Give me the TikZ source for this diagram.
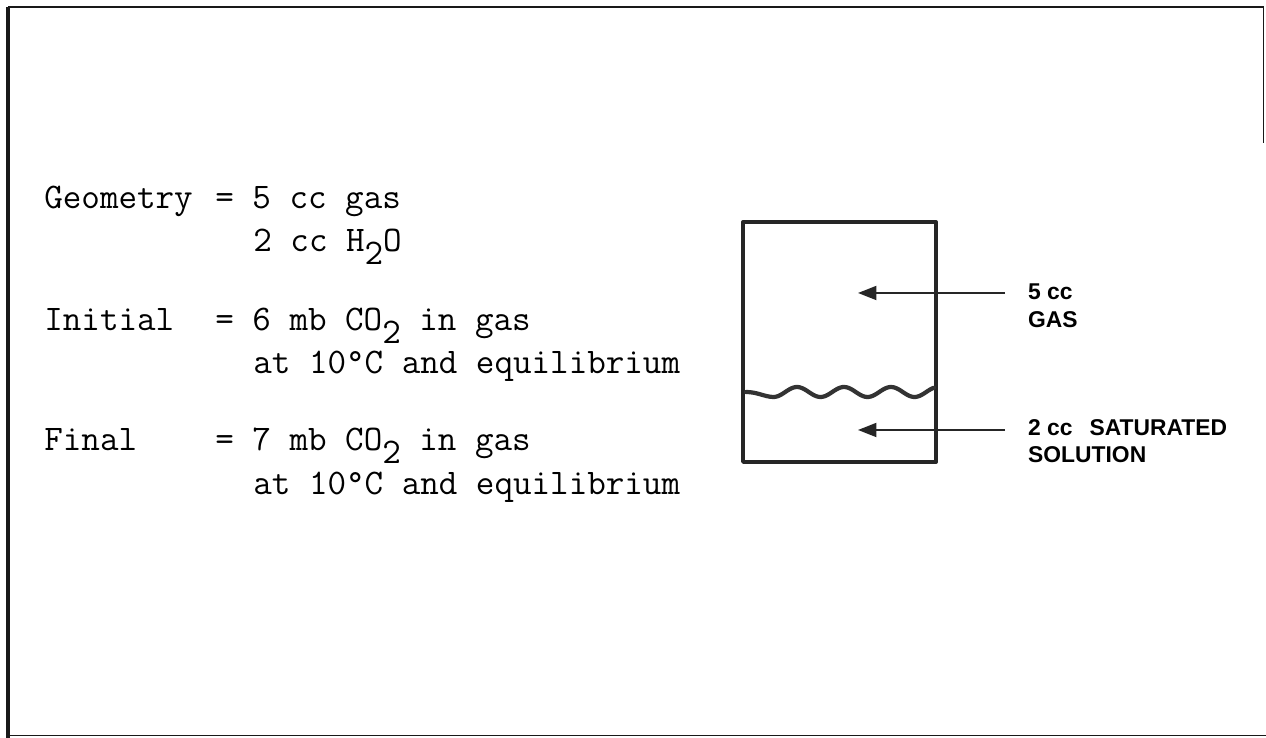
\documentclass[tikz,border=0pt]{standalone}
\usepackage{fontspec}
\newfontfamily\calloutfont{Liberation Sans}
\usepackage{tikz}
\usetikzlibrary{positioning,arrows.meta}
\newcommand{\tsub}[1]{\raisebox{-0.34em}{#1}}

\begin{document}
\begin{tikzpicture}[
  tw/.style={font=\fontsize{20.5}{24}\selectfont\ttfamily, inner sep=0pt, anchor=base west},
  callout/.style={font=\calloutfont\bfseries\fontsize{13}{15}\selectfont, inner xsep=13pt, inner ysep=0pt, anchor=base west},
  pointer/.style={-{Triangle[length=10.5pt,width=8pt]}, line width=1pt, color=black!85},
  vessel/.style={draw=black!85, line width=2.2pt, line join=round},
  surface/.style={draw=black!80, line width=2.4pt, line cap=round},
  frame/.style={draw=black!90}
]
  \useasboundingbox (0,0) rectangle (25.32,14.76);

  % page frame, cut off at the right
  \draw[frame, line width=2.2pt] (0.16,14.62) -- (0.16,0);
  \draw[frame, line width=1.4pt] (0.16,14.62) -- (25.27,14.62);
  \draw[frame, line width=0.6pt] (25.27,14.62) -- (25.27,11.90);
  \draw[frame, line width=0.9pt] (0.16,0.05) -- (25.32,0.05);

  % conditions, typed (labels at column 0, "=" at column 9, text at column 11)
  \node[tw] (geo) at (0.88,10.58) {Geometry};
  \node[tw] (geoval) at (4.30,10.58) {= 5 cc gas};
  \node[tw] (geoval2) at (5.06,9.72) {2 cc H\tsub{2}O};
  \node[tw] (init) at (0.88,8.14) {Initial};
  \node[tw] (initval) at (4.30,8.14) {= 6 mb CO\tsub{2} in gas};
  \node[tw] (initval2) at (5.06,7.28) {at 10°C and equilibrium};
  \node[tw] (fin) at (0.88,5.74) {Final};
  \node[tw] (finval) at (4.30,5.74) {= 7 mb CO\tsub{2} in gas};
  \node[tw] (finval2) at (5.06,4.86) {at 10°C and equilibrium};

  % the vessel
  \draw[vessel] (14.86,10.32) rectangle (18.72,5.52);
  \draw[surface] (14.92,6.92) .. controls (15.15,6.92) and (15.30,6.82) .. (15.47,6.82)
    -- plot[domain=15.47:18.68, samples=80, smooth] (\x, {6.92+0.1*cos(360*(\x-15.94)/0.94)});

  \coordinate (gastip) at (17.16,8.90);
  \coordinate (soltip) at (17.16,6.16);

  \node[callout] (gas) at (20.10,8.76) {5 cc};
  \node[callout] (gas2) at (20.10,8.20) {GAS};
  \node[callout] (sol) at (20.10,6.04) {2 cc\hspace{0.34cm}SATURATED};
  \node[callout] (sol2) at (20.10,5.50) {SOLUTION};

  \draw[pointer] (gas.west |- gastip) -- (gastip);
  \draw[pointer] (sol.west |- soltip) -- (soltip);
\end{tikzpicture}
\end{document}
